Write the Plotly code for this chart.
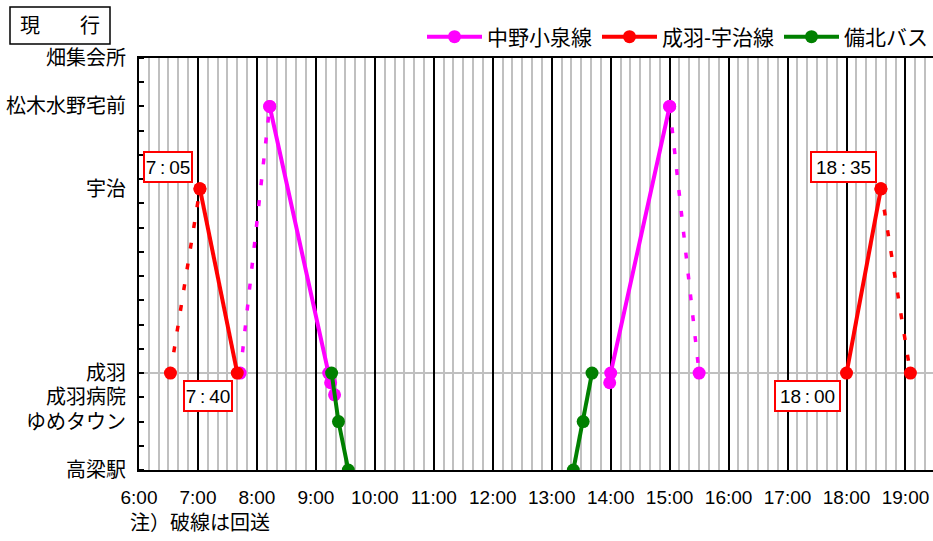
import plotly.graph_objects as go

# ---- data ----
stations = ["高梁駅", "ゆめタウン", "成羽病院", "成羽", "宇治", "松木水野宅前", "畑集会所"]
station_pos = [0, 2, 3, 4, 11.6, 15, 17]
hour_labels = [f"{h}:00" for h in range(6, 20)]

# 中野小泉線 (magenta)
nakano_run1_time = ["8:13", "9:13", "9:15", "9:19"]
nakano_run1_pos = [15, 4, 3.6, 3.1]
nakano_run2_time = ["13:59", "14:00", "15:00"]
nakano_run2_pos = [3.6, 4, 15]
nakano_dead1_time = ["7:43", "8:13"]
nakano_dead1_pos = [4, 15]
nakano_dead2_time = ["15:00", "15:30"]
nakano_dead2_pos = [15, 4]

# 成羽-宇治線 (red)
uji_run1_time = ["7:02", "7:40"]
uji_run1_pos = [11.6, 4]
uji_run2_time = ["18:00", "18:35"]
uji_run2_pos = [4, 11.6]
uji_dead1_time = ["6:32", "7:02"]
uji_dead1_pos = [4, 11.6]
uji_dead2_time = ["18:35", "19:05"]
uji_dead2_pos = [11.6, 4]

# 備北バス (green)
bihoku_run1_time = ["9:16", "9:23", "9:33"]
bihoku_run1_pos = [4, 2, 0]
bihoku_run2_time = ["13:22", "13:32", "13:41"]
bihoku_run2_pos = [0, 2, 4]

TS = "\u2009"
time_labels = [f"7{TS}:{TS}05", f"7{TS}:{TS}40", f"18{TS}:{TS}35", f"18{TS}:{TS}00"]


def to_min(s):
    h, m = s.split(":")
    return int(h) * 60 + int(m)


def join(*segs):
    xs, ys = [], []
    for i, (t, p) in enumerate(segs):
        if i:
            xs.append(None)
            ys.append(None)
        xs += [to_min(v) for v in t]
        ys += list(p)
    return xs, ys


FONT = "Liberation Sans, Arial, Noto Sans CJK JP, sans-serif"
fig = go.Figure()

series = [
    ("中野小泉線", "#FF00FF",
     [(nakano_run1_time, nakano_run1_pos), (nakano_run2_time, nakano_run2_pos)],
     [(nakano_dead1_time, nakano_dead1_pos), (nakano_dead2_time, nakano_dead2_pos)]),
    ("成羽‐宇治線", "#FF0000",
     [(uji_run1_time, uji_run1_pos), (uji_run2_time, uji_run2_pos)],
     [(uji_dead1_time, uji_dead1_pos), (uji_dead2_time, uji_dead2_pos)]),
    ("備北バス", "#008000",
     [(bihoku_run1_time, bihoku_run1_pos), (bihoku_run2_time, bihoku_run2_pos)],
     []),
]

for name, color, solid, dashed in series:
    if dashed:
        x, y = join(*dashed)
        fig.add_trace(go.Scatter(x=x, y=y, mode="lines+markers", showlegend=False,
                                 line=dict(color=color, width=3.5, dash="6px,15px"),
                                 marker=dict(color=color, size=13), hoverinfo="skip"))
    x, y = join(*solid)
    fig.add_trace(go.Scatter(x=x, y=y, mode="lines+markers", name=name,
                             line=dict(color=color, width=4),
                             marker=dict(color=color, size=13)))

X0 = to_min("6:00")
X1 = to_min("19:28")

fig.update_layout(
    width=933, height=541,
    margin=dict(l=139, r=0, t=58, b=71),
    paper_bgcolor="white", plot_bgcolor="white",
    font=dict(family=FONT, size=20, color="black"),
    showlegend=True,
    legend=dict(orientation="h", x=1.0, xanchor="right", y=1.051, yanchor="middle",
                font=dict(size=21), bgcolor="rgba(0,0,0,0)", traceorder="normal",
                itemwidth=55),
    xaxis=dict(
        range=[X0, X1],
        tickmode="array", tickvals=[to_min(h) for h in hour_labels], ticktext=hour_labels,
        ticks="", showgrid=True, gridcolor="black", gridwidth=1.5,
        showline=True, linecolor="black", linewidth=2, mirror=True,
        tickfont=dict(size=19), ticklabelstandoff=9, zeroline=False,
        minor=dict(tickmode="linear", tick0=X0, dtick=10, showgrid=True,
                   gridcolor="#c0c0c0", gridwidth=2, ticks=""),
    ),
    yaxis=dict(
        range=[0, 17],
        tickmode="array", tickvals=station_pos, ticktext=stations,
        ticks="", showgrid=False, zeroline=False,
        showline=True, linecolor="black", linewidth=2,
        tickfont=dict(size=20), ticklabelstandoff=7,
        minor=dict(tickmode="linear", tick0=0, dtick=1, ticks="inside",
                   ticklen=5, tickwidth=2, tickcolor="black", showgrid=False),
    ),
)

# 成羽 horizontal reference line
fig.add_shape(type="line", xref="paper", x0=0, x1=1, yref="y", y0=4, y1=4,
              line=dict(color="#c0c0c0", width=2), layer="below")

# title box 現行
fig.add_shape(type="rect", xref="paper", yref="paper",
              x0=(10 - 139) / 794, x1=(110 - 139) / 794,
              y0=(470 - 44) / 412, y1=(470 - 7) / 412,
              line=dict(color="black", width=1.5), fillcolor="white")
fig.add_annotation(xref="paper", yref="paper", x=(60 - 139) / 794, y=(470 - 26) / 412,
                   text="現　　行", showarrow=False, font=dict(size=20),
                   xanchor="center", yanchor="middle")

# note
fig.add_annotation(xref="paper", yref="paper", x=(128 - 139) / 794, y=(470 - 523) / 412,
                   text="注）破線は回送", showarrow=False, font=dict(size=20),
                   xanchor="left", yanchor="middle")

# time label boxes
label_pos = [("6:30", 12.5), ("7:10", 3.05), ("17:57", 12.5), ("17:20", 3.05)]
label_w = [44, 44, 61, 61]
for txt, (t, yv), w in zip(time_labels, label_pos, label_w):
    fig.add_annotation(x=to_min(t), y=yv, text=txt, showarrow=False,
                       font=dict(size=19, color="black"), bgcolor="white",
                       width=w, height=26, align="center",
                       bordercolor="#FF0000", borderwidth=2, borderpad=1)

fig.write_html("out.html", config={"displayModeBar": False},
               post_script="document.body.style.margin='0';document.body.style.padding='0';")
